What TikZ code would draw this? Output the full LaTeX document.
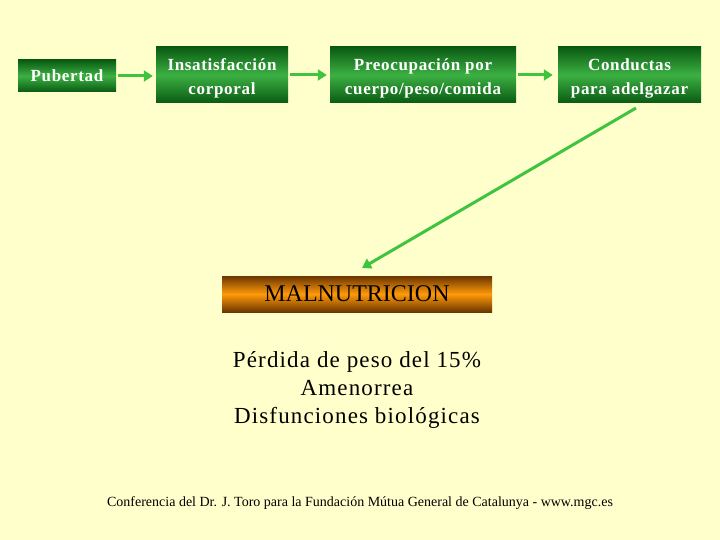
\documentclass[tikz,border=0pt]{standalone}
\usepackage{fontspec}
\setmainfont{Liberation Serif}
\usetikzlibrary{arrows.meta}
\definecolor{bg}{HTML}{FFFFCC}
\definecolor{gdark}{HTML}{0A5A12}
\definecolor{glight}{HTML}{3CB043}
\definecolor{arr}{HTML}{3FC43F}
\definecolor{odark}{HTML}{6B3500}
\definecolor{olight}{HTML}{FF9A0A}
\tikzset{
  greenbox/.style={draw=none, top color=gdark, bottom color=gdark, middle color=glight,
    inner sep=0pt},
  boxtext/.style={text=white, font=\fontsize{17}{24}\selectfont\bfseries\addfontfeature{LetterSpace=4},
    align=center, inner sep=0pt},
  flow/.style={draw=arr, line width=3pt, -{Triangle[length=9pt,width=11pt]}},
}
\begin{document}
\begin{tikzpicture}[x=1pt,y=-1pt]
\fill[bg] (0,0) rectangle (720,540);
\useasboundingbox (0,0) rectangle (720,540);
\node[greenbox, minimum width=98pt, minimum height=32pt] (pub) at (67,76) {};
\node[boxtext] (pub-t) at (pub.center) {Pubertad};
\node[greenbox, minimum width=132pt, minimum height=56pt] (ins) at (222,75) {};
\node[boxtext] (ins-t) at ([yshift=-3pt]ins.center) {Insatisfacción\\corporal};
\node[greenbox, minimum width=186pt, minimum height=56pt] (pre) at (423,75) {};
\node[boxtext] (pre-t) at ([yshift=-3pt]pre.center) {Preocupación por\\cuerpo/peso/comida};
\node[greenbox, minimum width=143pt, minimum height=56pt] (con) at (629.5,75) {};
\node[boxtext] (con-t) at ([yshift=-3pt]con.center) {Conductas\\para adelgazar};
\node[draw=none, top color=odark, bottom color=odark, middle color=olight,
  minimum width=270pt, minimum height=36pt, inner sep=0pt,
  font=\fontsize{24}{28}\selectfont] (mal) at (357,294) {MALNUTRICION};
\coordinate (ds) at (636,108);
\coordinate (de) at (362,268);
\draw[flow] ([xshift=2pt]pub.east) -- ([xshift=-3pt]ins.west|-pub.east);
\draw[flow] ([xshift=2pt]ins.east) -- ([xshift=-3pt]pre.west);
\draw[flow] ([xshift=2pt]pre.east) -- ([xshift=-5pt]con.west);
\draw[flow] (ds) -- (de);
\node[font=\fontsize{23}{28}\selectfont\addfontfeature{LetterSpace=5}, align=center, inner sep=0pt] (txt) at (357,390)
  {Pérdida de peso del 15\%\\Amenorrea\\Disfunciones biológicas};
\node[font=\fontsize{14}{16}\selectfont, inner sep=0pt] (foot) at (360,503)
  {Conferencia del Dr. J. Toro para la Fundación Mútua General de Catalunya - www.mgc.es};
\end{tikzpicture}
\end{document}
